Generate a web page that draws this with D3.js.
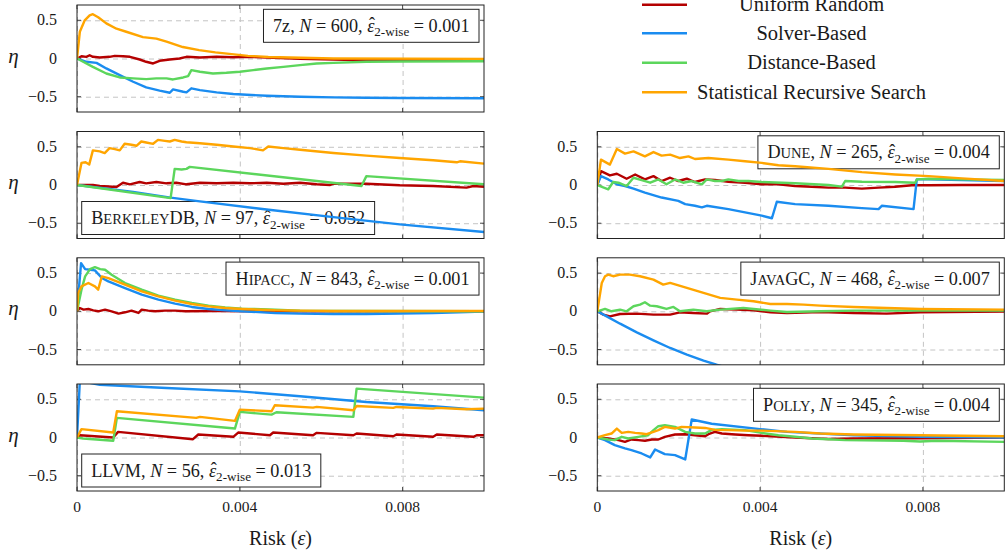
<!DOCTYPE html>
<html><head><meta charset="utf-8">
<script src="https://cdn.jsdelivr.net/npm/d3@7"></script>
<style>
body{margin:0;background:#fff}
text{font-family:"Liberation Serif","Times New Roman",serif;fill:#1a1a1a}
</style></head>
<body><svg id="c" width="1007" height="556"></svg>
<script>
// ---------- data ----------
const methods = ["Uniform Random", "Solver-Based", "Distance-Based", "Statistical Recursive Search"];
const xTicks = [0, 0.004, 0.008];
const xTickLabels = ["0", "0.004", "0.008"];
const yTicks = [-0.5, 0, 0.5];
const yTickLabels = ["\u22120.5", "0", "0.5"];

const systems = ["7z", "BerkeleyDB", "Hipacc", "LLVM", "Dune", "JavaGC", "Polly"];
const sampleSizes = [600, 97, 843, 56, 265, 468, 345];
const twiseRisk = ["0.001", "0.052", "0.001", "0.013", "0.004", "0.007", "0.004"];

// 7z
const z7_uniform = [[0,0],[0.00011,0.03],[0.00023,0.022],[0.00031,0.043],[0.00039,0.022],[0.00056,0.013],[0.0008,0.022],[0.00093,0.035],[0.00113,0.03],[0.0013,0.022],[0.00154,-0.013],[0.0017,-0.043],[0.00187,-0.065],[0.00203,-0.03],[0.00228,-0.013],[0.00252,0],[0.00269,0.022],[0.00302,0.013],[0.00343,0.022],[0.00384,0.017],[0.00425,0.022],[0.00466,0.013],[0.00548,-0.004],[0.0063,-0.013],[0.00711,-0.022],[0.00793,-0.022],[0.01,-0.013]];
const z7_solver = [[0,0],[0.00023,-0.043],[0.00048,-0.057],[0.00072,-0.13],[0.00105,-0.217],[0.00138,-0.304],[0.0017,-0.378],[0.00203,-0.42],[0.00228,-0.448],[0.00236,-0.404],[0.00261,-0.435],[0.00269,-0.443],[0.00281,-0.39],[0.00302,-0.413],[0.00343,-0.443],[0.00384,-0.465],[0.00466,-0.487],[0.00548,-0.5],[0.0063,-0.509],[0.00711,-0.513],[0.00793,-0.517],[0.01,-0.52]];
const z7_distance = [[0,0],[0.00015,-0.043],[0.00039,-0.11],[0.00072,-0.196],[0.00105,-0.248],[0.00138,-0.26],[0.0017,-0.27],[0.00195,-0.26],[0.0022,-0.26],[0.00236,-0.274],[0.00261,-0.248],[0.00273,-0.23],[0.00281,-0.152],[0.00302,-0.174],[0.00334,-0.196],[0.00367,-0.187],[0.004,-0.174],[0.00433,-0.152],[0.00466,-0.13],[0.00507,-0.11],[0.00548,-0.087],[0.00589,-0.065],[0.0063,-0.057],[0.00711,-0.043],[0.00793,-0.039],[0.01,-0.035]];
const z7_srs = [[0,0],[0.00007,0.35],[0.00019,0.5],[0.00031,0.565],[0.00039,0.58],[0.00052,0.54],[0.00072,0.46],[0.00097,0.39],[0.00121,0.35],[0.00162,0.28],[0.00195,0.26],[0.0022,0.22],[0.0026,0.15],[0.003,0.11],[0.0034,0.08],[0.0038,0.057],[0.0042,0.035],[0.0047,0.02],[0.0055,0.01],[0.0063,0],[0.01,-0.005]];

// BerkeleyDB
const bdb_uniform = [[0,0],[0.00039,0],[0.00056,-0.013],[0.00097,-0.026],[0.00113,0.03],[0.0013,0.009],[0.00154,0.039],[0.0017,0.022],[0.00195,0.039],[0.0022,0.022],[0.00244,0.03],[0.00269,0.009],[0.00302,0.03],[0.00343,0.022],[0.00384,0.03],[0.00425,0.022],[0.00466,0.03],[0.00507,0.017],[0.00548,0.03],[0.00589,0.009],[0.00622,0],[0.0063,0.017],[0.00711,0.017],[0.00793,-0.004],[0.00875,-0.013],[0.00957,-0.034],[0.00974,-0.013],[0.01,-0.022]];
const bdb_solver = [[0,0],[0.00138,-0.09],[0.0023,-0.165],[0.00302,-0.215],[0.00466,-0.32],[0.0063,-0.42],[0.00793,-0.515],[0.01,-0.616]];
const bdb_distance = [[0,0],[0.0023,-0.172],[0.0024,0.211],[0.00257,0.203],[0.00269,0.211],[0.00277,0.237],[0.00699,-0.013],[0.00711,0.116],[0.01,0.009]];
const bdb_srs = [[0,0],[0.00011,0.289],[0.00021,0.297],[0.0003,0.267],[0.00039,0.453],[0.00056,0.44],[0.00068,0.418],[0.0008,0.483],[0.00093,0.47],[0.00105,0.453],[0.00117,0.539],[0.00134,0.526],[0.00146,0.513],[0.00158,0.569],[0.0017,0.556],[0.00187,0.539],[0.00199,0.59],[0.00216,0.578],[0.00228,0.569],[0.0024,0.59],[0.00257,0.569],[0.00269,0.56],[0.00302,0.547],[0.00343,0.526],[0.00384,0.504],[0.00425,0.483],[0.00457,0.453],[0.0047,0.504],[0.00507,0.483],[0.00548,0.461],[0.0063,0.418],[0.00711,0.384],[0.00793,0.353],[0.00875,0.323],[0.00933,0.297],[0.00941,0.31],[0.01,0.28]];

// Hipacc
const hip_uniform = [[0,0],[0.00007,0.043],[0.00016,0.022],[0.00028,0.03],[0.0004,0.013],[0.00052,0],[0.00069,0.022],[0.00085,0],[0.00102,-0.03],[0.00118,-0.013],[0.00134,0.009],[0.00151,-0.022],[0.00159,0.022],[0.00175,0.009],[0.00192,0],[0.00216,0.009],[0.00241,0.009],[0.00266,0],[0.00343,0.004],[0.00466,0],[0.01,0]];
const hip_solver = [[0,0],[0.0001,0.63],[0.0002,0.552],[0.00032,0.543],[0.00044,0.535],[0.00061,0.435],[0.00077,0.391],[0.00118,0.304],[0.00159,0.217],[0.002,0.152],[0.00241,0.1],[0.00282,0.057],[0.00323,0.03],[0.00364,0.013],[0.00405,0],[0.00487,-0.022],[0.00548,-0.03],[0.0063,-0.035],[0.00711,-0.035],[0.00793,-0.03],[0.00875,-0.022],[0.01,-0.004]];
const hip_distance = [[0,0],[0.00011,0.283],[0.0002,0.457],[0.00032,0.552],[0.00044,0.578],[0.00057,0.552],[0.00069,0.543],[0.00085,0.478],[0.00118,0.37],[0.00159,0.283],[0.002,0.204],[0.00241,0.152],[0.00282,0.109],[0.00323,0.074],[0.00364,0.052],[0.00405,0.035],[0.00487,0.022],[0.00548,0.009],[0.0063,0.004],[0.01,0]];
const hip_srs = [[0,0],[0.00003,0.239],[0.00011,0.326],[0.00028,0.37],[0.00044,0.326],[0.00052,0.283],[0.00061,0.457],[0.00077,0.435],[0.00118,0.348],[0.00159,0.261],[0.002,0.196],[0.00241,0.139],[0.00282,0.096],[0.00323,0.065],[0.00364,0.043],[0.00405,0.03],[0.00487,0.013],[0.00548,0.009],[0.0063,0.004],[0.01,0.004]];

// LLVM
const llvm_uniform = [[0,0],[0.00007,0.03],[0.00089,0],[0.00101,0.074],[0.00285,-0.022],[0.00298,0.039],[0.00384,0.009],[0.00396,0.065],[0.00474,0.03],[0.00482,0.065],[0.0058,0.03],[0.00589,0.061],[0.00679,0.03],[0.00687,0.052],[0.00777,0.017],[0.00785,0.039],[0.00875,0.009],[0.00884,0.039],[0.00974,0.009],[0.00982,0.03],[0.01,0.03]];
const llvm_solver = [[0,0],[0.00007,0.74],[0.00056,0.69],[0.0022,0.648],[0.004,0.604],[0.00548,0.54],[0.00711,0.465],[0.00875,0.409],[0.01,0.357]];
const llvm_distance = [[0,0],[0.00015,-0.013],[0.00089,-0.043],[0.00098,0.257],[0.00388,0.117],[0.004,0.335],[0.00478,0.3],[0.0049,0.33],[0.00679,0.27],[0.00687,0.639],[0.01,0.522]];
const llvm_srs = [[0,0],[0.00011,0.109],[0.00089,0.065],[0.00098,0.343],[0.00293,0.257],[0.00302,0.27],[0.00388,0.217],[0.004,0.365],[0.00478,0.343],[0.00486,0.422],[0.0058,0.391],[0.00589,0.4],[0.00679,0.357],[0.00687,0.413],[0.00777,0.387],[0.00785,0.4],[0.00875,0.378],[0.00884,0.387],[0.00957,0.37],[0.01,0.378]];

// Dune
const dune_uniform = [[0,0],[0.00009,0.181],[0.00031,0.125],[0.00048,0.147],[0.00072,0.082],[0.00093,0.138],[0.00117,0.073],[0.00138,0.116],[0.00158,0.052],[0.00179,0.095],[0.00199,0.052],[0.0022,0.082],[0.0024,0.039],[0.00265,0.073],[0.00289,0.065],[0.00322,0.043],[0.00363,0.03],[0.00404,0.009],[0.00445,0.009],[0.00486,-0.013],[0.00527,-0.022],[0.00568,-0.034],[0.00609,-0.034],[0.0065,-0.047],[0.00691,-0.034],[0.00732,-0.022],[0.00773,-0.004],[0.00814,-0.004],[0.00896,0],[0.01,0]];
const dune_solver = [[0,0],[0.00009,0.116],[0.00027,0.073],[0.00048,0.009],[0.00068,-0.013],[0.00089,-0.047],[0.00117,-0.099],[0.00158,-0.164],[0.00199,-0.207],[0.00216,-0.25],[0.0024,-0.272],[0.00257,-0.293],[0.00269,-0.272],[0.00322,-0.315],[0.00363,-0.358],[0.00404,-0.401],[0.00429,-0.435],[0.00441,-0.22],[0.00486,-0.25],[0.00568,-0.272],[0.0065,-0.302],[0.00691,-0.315],[0.00699,-0.272],[0.00777,-0.315],[0.00785,0.073],[0.00814,0.073],[0.00896,0.065],[0.01,0.052]];
const dune_distance = [[0,0],[0.00027,-0.056],[0.00039,0.039],[0.00052,0.03],[0.00072,-0.013],[0.00089,0.095],[0.00109,0.065],[0.0013,0.03],[0.0015,0.073],[0.0017,0.009],[0.00191,0.073],[0.00211,0.03],[0.00232,0.052],[0.00257,0.009],[0.00269,0.073],[0.00289,0.052],[0.00306,0.052],[0.00322,0.073],[0.00347,0.052],[0.00371,0.052],[0.00404,0.039],[0.00486,0.022],[0.00568,0],[0.00601,-0.022],[0.00609,0.052],[0.0065,0.043],[0.00732,0.039],[0.00781,0.03],[0.00785,0.073],[0.00814,0.082],[0.00896,0.073],[0.01,0.065]];
const dune_srs = [[0,0],[0.00009,0.332],[0.00031,0.267],[0.00048,0.47],[0.00068,0.41],[0.00089,0.44],[0.00117,0.375],[0.00138,0.431],[0.00158,0.384],[0.00179,0.397],[0.00203,0.353],[0.00224,0.375],[0.0024,0.34],[0.00273,0.353],[0.00322,0.332],[0.00363,0.31],[0.00404,0.289],[0.00445,0.259],[0.00486,0.246],[0.00568,0.211],[0.0065,0.168],[0.00732,0.138],[0.00814,0.116],[0.00896,0.086],[0.01,0.052]];

// JavaGC
const jgc_uniform = [[0,0],[0.00015,-0.044],[0.00031,-0.066],[0.00056,-0.035],[0.00097,-0.031],[0.00138,-0.044],[0.00179,-0.044],[0.00203,-0.013],[0.00236,-0.022],[0.00269,-0.031],[0.00277,0],[0.00302,0.031],[0.00343,0.022],[0.00384,0.013],[0.00425,-0.013],[0.00466,-0.022],[0.00548,-0.009],[0.0063,-0.022],[0.00711,-0.031],[0.00793,-0.013],[0.01,-0.004]];
const jgc_solver = [[0,0],[0.00023,-0.066],[0.00056,-0.162],[0.00097,-0.275],[0.00138,-0.38],[0.00179,-0.48],[0.0022,-0.568],[0.00261,-0.646],[0.00293,-0.699],[0.0034,-0.77]];
const jgc_distance = [[0,0],[0.00019,0.031],[0.00035,0],[0.00056,0.022],[0.00072,0],[0.00089,0.066],[0.00105,0.087],[0.00117,0.118],[0.0013,0.074],[0.00146,0.066],[0.0017,0.031],[0.00187,0.057],[0.00203,0],[0.00236,0.022],[0.00269,0],[0.00302,0.022],[0.00359,0.044],[0.00384,0.031],[0.00425,0.009],[0.00466,-0.009],[0.00548,0],[0.0063,0.009],[0.01,0.009]];
const jgc_srs = [[0,0],[0.00011,0.371],[0.00019,0.459],[0.00027,0.48],[0.00039,0.459],[0.00056,0.48],[0.0008,0.48],[0.00105,0.459],[0.00138,0.415],[0.00162,0.349],[0.00179,0.371],[0.0022,0.306],[0.00261,0.24],[0.00302,0.175],[0.00343,0.153],[0.00384,0.131],[0.00425,0.096],[0.00466,0.096],[0.00507,0.087],[0.00548,0.074],[0.0063,0.057],[0.00711,0.044],[0.00793,0.031],[0.01,0.022]];

// Polly
const poly_uniform = [[0,0],[0.00027,-0.013],[0.00052,-0.035],[0.00068,-0.057],[0.00084,-0.026],[0.00101,-0.035],[0.00117,-0.043],[0.00134,-0.026],[0.0015,-0.026],[0.00166,0.009],[0.00191,0.039],[0.00216,0.043],[0.0024,0.03],[0.00265,0.017],[0.00273,0.043],[0.00289,0.074],[0.00306,0.052],[0.00339,0.039],[0.00371,0.03],[0.00404,0.022],[0.00486,0],[0.00568,-0.02],[0.0063,-0.013],[0.00793,-0.01],[0.01,0]];
const poly_solver = [[0,0],[0.00019,-0.035],[0.00043,-0.1],[0.00068,-0.143],[0.00084,-0.165],[0.00109,-0.209],[0.0013,-0.261],[0.00142,-0.157],[0.00154,-0.187],[0.00166,-0.217],[0.00191,-0.23],[0.00216,-0.287],[0.00232,0.235],[0.00281,0.18],[0.004,0.11],[0.00466,0.074],[0.0063,0.03],[0.00793,0.009],[0.01,0]];
const poly_distance = [[0,0],[0.00027,-0.026],[0.00043,-0.035],[0.0006,0.009],[0.00076,-0.013],[0.00101,0.009],[0.00125,0.03],[0.00138,0.096],[0.0015,0.148],[0.00166,0.161],[0.00191,0.139],[0.00216,0.074],[0.0024,0.052],[0.00265,0.052],[0.00281,0.1],[0.00306,0.11],[0.00363,0.096],[0.00404,0.06],[0.00445,0.03],[0.00486,0.009],[0.00527,-0.013],[0.00568,-0.022],[0.00609,-0.035],[0.00752,-0.043],[0.00793,-0.052],[0.00834,-0.043],[0.01,-0.057]];
const poly_srs = [[0,0],[0.00019,0.03],[0.00035,0.052],[0.00048,0.117],[0.0006,0.061],[0.00076,0.074],[0.00093,0.061],[0.00109,0.052],[0.00121,0.043],[0.00138,0.074],[0.0015,0.096],[0.00166,0.139],[0.00191,0.117],[0.00207,0.139],[0.0024,0.13],[0.00265,0.125],[0.00289,0.1],[0.00322,0.096],[0.00363,0.09],[0.00404,0.09],[0.00486,0.074],[0.00548,0.052],[0.0063,0.039],[0.00793,0.03],[0.01,0.017]];

// ---------- layout / style ----------
const colors = ["#b40000", "#1a8cf0", "#5cd65c", "#ffa500"];
const W = 407, H = 107;
const colX = [77, 597.3];
const rowY = [5, 131.5, 257.8, 384];
const annFont = 18.2;

const nameParts = {
  "7z": [["7z", false]],
  "BerkeleyDB": [["Berkeley", true], ["DB", false]],
  "Hipacc": [["Hipacc", true]],
  "LLVM": [["LLVM", false]],
  "Dune": [["Dune", true]],
  "JavaGC": [["Java", true], ["GC", false]],
  "Polly": [["Polly", true]]
};
const seriesBySystem = {
  "7z": [z7_uniform, z7_solver, z7_distance, z7_srs],
  "BerkeleyDB": [bdb_uniform, bdb_solver, bdb_distance, bdb_srs],
  "Hipacc": [hip_uniform, hip_solver, hip_distance, hip_srs],
  "LLVM": [llvm_uniform, llvm_solver, llvm_distance, llvm_srs],
  "Dune": [dune_uniform, dune_solver, dune_distance, dune_srs],
  "JavaGC": [jgc_uniform, jgc_solver, jgc_distance, jgc_srs],
  "Polly": [poly_uniform, poly_solver, poly_distance, poly_srs]
};
const placement = {
  "7z": [0, 0, "tr"], "BerkeleyDB": [0, 1, "bl"], "Hipacc": [0, 2, "tr"], "LLVM": [0, 3, "bl"],
  "Dune": [1, 1, "tr"], "JavaGC": [1, 2, "tr"], "Polly": [1, 3, "tr"]
};

const svg = d3.select("#c");
const defs = svg.append("defs");

systems.forEach((sys, si) => {
  const [col, row, corner] = placement[sys];
  const x0 = colX[col], y0 = rowY[row];
  const x = d3.scaleLinear().domain([0, 0.01]).range([x0, x0 + W]);
  const y = d3.scaleLinear().domain([-0.7, 0.7]).range([y0 + H, y0]);
  const g = svg.append("g");

  // grid
  g.append("g").call(d3.axisBottom(x).tickValues(xTicks).tickSize(-H).tickFormat(""))
    .attr("transform", `translate(0,${y0 + H})`)
    .call(a => { a.select(".domain").remove(); a.selectAll("line").attr("stroke", "#c4c4c4").attr("stroke-dasharray", "5,4"); });
  g.append("g").call(d3.axisLeft(y).tickValues(yTicks).tickSize(-W).tickFormat(""))
    .attr("transform", `translate(${x0},0)`)
    .call(a => { a.select(".domain").remove(); a.selectAll("line").attr("stroke", "#c4c4c4").attr("stroke-dasharray", "5,4"); });

  // inward tick marks
  const tk = g.append("g").attr("stroke", "#333").attr("stroke-width", 0.9);
  xTicks.forEach(v => {
    tk.append("line").attr("x1", x(v)).attr("x2", x(v)).attr("y1", y0 + H).attr("y2", y0 + H - 4);
    tk.append("line").attr("x1", x(v)).attr("x2", x(v)).attr("y1", y0).attr("y2", y0 + 4);
  });
  yTicks.forEach(v => {
    tk.append("line").attr("x1", x0).attr("x2", x0 + 4).attr("y1", y(v)).attr("y2", y(v));
    tk.append("line").attr("x1", x0 + W).attr("x2", x0 + W - 4).attr("y1", y(v)).attr("y2", y(v));
  });

  // annotation box
  const ann = g.append("g");
  const t = ann.append("text").attr("font-size", annFont).attr("x", 0).attr("y", 0);
  nameParts[sys].forEach(([s, sc]) => {
    if (sc) {
      t.append("tspan").text(s[0]);
      t.append("tspan").attr("font-size", annFont * 0.8).text(s.slice(1).toUpperCase());
    } else {
      t.append("tspan").text(s);
    }
  });
  t.append("tspan").text(", ");
  t.append("tspan").attr("font-style", "italic").text("N");
  t.append("tspan").text(` = ${sampleSizes[si]}, `);
  t.append("tspan").attr("font-style", "italic").text("\u03B5");
  t.append("tspan").attr("font-size", annFont * 0.72).attr("dy", 4.5).text("2-wise");
  t.append("tspan").attr("dy", -4.5).text(` = ${twiseRisk[si]}`);
  const bb = t.node().getBBox();
  const padX = 9.5, bh = 33;
  const bw = bb.width + 2 * padX;
  let bx, by;
  if (corner === "tr") { bx = x0 + W - 5 - bw; by = y0 + 4.3; }
  else { bx = x0 + 4.7; by = y0 + H - 4 - bh; }
  ann.insert("rect", "text").attr("x", bx).attr("y", by).attr("width", bw).attr("height", bh)
    .attr("fill", "#fff").attr("stroke", "#222").attr("stroke-width", 1);
  const baseY = by + bh / 2 + 6;
  t.attr("x", bx + padX).attr("y", baseY);
  const idx = t.text().indexOf("\u03B5");
  const ext = t.node().getExtentOfChar(idx);
  ann.append("text").attr("x", ext.x + ext.width / 2 + 1.2).attr("y", baseY - 1.5)
    .attr("text-anchor", "middle").attr("font-size", annFont).text("\u02C6");

  // clip & series lines
  const cid = "clip" + si;
  defs.append("clipPath").attr("id", cid).append("rect").attr("x", x0).attr("y", y0).attr("width", W).attr("height", H);
  const line = d3.line().x(d => x(d[0])).y(d => y(d[1]));
  const lg = g.append("g").attr("clip-path", `url(#${cid})`);
  seriesBySystem[sys].forEach((data, mi) => {
    lg.append("path").datum(data).attr("d", line).attr("fill", "none")
      .attr("stroke", colors[mi]).attr("stroke-width", 2.4).attr("stroke-linejoin", "round");
  });

  // frame
  g.append("rect").attr("x", x0).attr("y", y0).attr("width", W).attr("height", H)
    .attr("fill", "none").attr("stroke", "#222").attr("stroke-width", 1);

  // y tick labels
  g.selectAll(".yl").data(yTicks).join("text")
    .attr("x", x0 - 20).attr("y", d => y(d) + 5).attr("text-anchor", "end").attr("font-size", 16)
    .text((d, i) => yTickLabels[i]);

  if (col === 0) {
    g.append("text").attr("x", 13.5).attr("y", y0 + H / 2 + 4).attr("text-anchor", "middle")
      .attr("font-size", 21).attr("font-style", "italic").text("\u03B7");
  }
  if (row === 3) {
    g.selectAll(".xl").data(xTicks).join("text")
      .attr("x", d => x(d)).attr("y", y0 + H + 21).attr("text-anchor", "middle").attr("font-size", 15.5)
      .text((d, i) => xTickLabels[i]);
    const lab = g.append("text").attr("x", x0 + W / 2).attr("y", 545).attr("text-anchor", "middle").attr("font-size", 20);
    lab.append("tspan").text("Risk (");
    lab.append("tspan").attr("font-style", "italic").text("\u03B5");
    lab.append("tspan").text(")");
  }
});

// legend
const legRows = [4.7, 33.3, 62.7, 92.3];
const leg = svg.append("g");
methods.forEach((m, i) => {
  leg.append("line").attr("x1", 642).attr("x2", 687).attr("y1", legRows[i]).attr("y2", legRows[i])
    .attr("stroke", colors[i]).attr("stroke-width", 2.6);
  leg.append("text").attr("x", 811.5).attr("y", legRows[i] + 6.5).attr("text-anchor", "middle")
    .attr("font-size", 20.5).text(m);
});
</script></body></html>
